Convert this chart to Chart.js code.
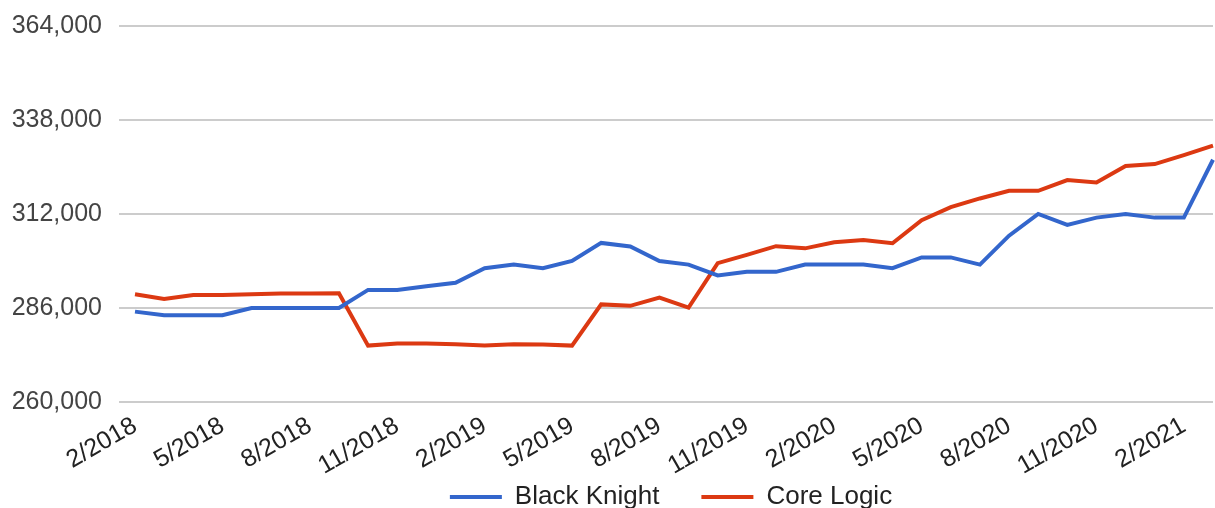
<!DOCTYPE html>
<html>
<head>
<meta charset="utf-8">
<script src="https://cdn.jsdelivr.net/npm/chart.js@4"></script>
<style>
  html, body { margin: 0; padding: 0; background: #fff; }
  #wrap { width: 1215px; height: 508px; position: relative; }
</style>
</head>
<body>
<div id="wrap"><canvas id="linechart"></canvas></div>
<script>
const months = [
  '2/2018', '3/2018', '4/2018', '5/2018', '6/2018', '7/2018', '8/2018', '9/2018', '10/2018', '11/2018', '12/2018',
  '1/2019', '2/2019', '3/2019', '4/2019', '5/2019', '6/2019', '7/2019', '8/2019', '9/2019', '10/2019', '11/2019', '12/2019',
  '1/2020', '2/2020', '3/2020', '4/2020', '5/2020', '6/2020', '7/2020', '8/2020', '9/2020', '10/2020', '11/2020', '12/2020',
  '1/2021', '2/2021', '3/2021'
];
const blackKnight = [
  285000, 284000, 284000, 284000, 286000, 286000, 286000, 286000, 291000, 291000, 292000,
  293000, 297000, 298000, 297000, 299000, 304000, 303000, 299000, 298000, 295000, 296000, 296000,
  298000, 298000, 298000, 297000, 300000, 300000, 298000, 306000, 312000, 309000, 311000, 312000,
  311000, 311000, 327000
];
const coreLogic = [
  289800, 288500, 289600, 289600, 289800, 290000, 290000, 290100, 275600, 276200, 276200,
  276000, 275600, 276000, 275900, 275600, 287000, 286600, 288900, 286100, 298400, 300700, 303100,
  302500, 304200, 304800, 303900, 310300, 313900, 316300, 318400, 318400, 321400, 320700, 325300,
  325800, 328300, 330900
];
const yMin = 260000;
const yMax = 364000;
const yStep = 26000;

const fontFamily = 'Arial, "Liberation Sans", sans-serif';

const layoutFix = {
  id: 'layoutFix',
  afterLayout(chart) {
    // legend sits under the middle of the plot, not the middle of the canvas
    const lg = chart.legend;
    const ca = chart.chartArea;
    const shift = (ca.left + ca.right) / 2 - (lg.left + lg.right) / 2 - 3;
    lg.left += shift;
    lg.right += shift;
    // rotated month labels hang below the axis box, don't clip them
    chart.scales.x._computeLabelArea = () => undefined;
  }
};

const ctx = document.getElementById('linechart');

new Chart(ctx, {
  type: 'line',
  data: {
    labels: months,
    datasets: [{
      label: 'Black Knight',
      data: blackKnight,
      borderColor: '#3366cc',
      backgroundColor: '#3366cc',
      borderWidth: 4,
      pointRadius: 0,
      tension: 0
    }, {
      label: 'Core Logic',
      data: coreLogic,
      borderColor: '#dc3912',
      backgroundColor: '#dc3912',
      borderWidth: 4,
      pointRadius: 0,
      tension: 0
    }]
  },
  options: {
    responsive: true,
    maintainAspectRatio: false,
    animation: false,
    layout: { padding: { top: 26, right: 2, left: 0, bottom: 0 } },
    plugins: {
      tooltip: { enabled: false },
      legend: {
        position: 'bottom',
        maxHeight: 66,
        labels: {
          boxWidth: 52,
          boxHeight: 4,
          padding: 42,
          color: '#222',
          font: { family: fontFamily, size: 26 },
          generateLabels(chart) {
            return Chart.defaults.plugins.legend.labels.generateLabels(chart)
              .map(l => ({ ...l, lineWidth: 0 }));
          }
        }
      }
    },
    scales: {
      x: {
        grid: { display: false },
        border: { display: false },
        afterFit: s => {
          s.height = 40;
          s.paddingLeft = 0;
          s.paddingRight = 0;
        },
        ticks: {
          autoSkip: false,
          minRotation: 30,
          maxRotation: 30,
          padding: 1,
          color: '#222',
          font: { family: fontFamily, size: 25 },
          callback: (v, i) => (i % 3 === 0 ? months[i] : '')
        }
      },
      y: {
        min: yMin,
        max: yMax,
        afterFit: s => {
          s.width = 135;
          s.paddingTop = 0;
          s.paddingBottom = 0;
        },
        grid: { color: '#cccccc', lineWidth: 2, tickLength: 16, drawTicks: true },
        border: { display: false },
        ticks: {
          stepSize: yStep,
          padding: 17,
          color: '#444',
          font: { family: fontFamily, size: 25 },
          callback: v => v.toLocaleString('en-US')
        }
      }
    }
  },
  plugins: [layoutFix]
});
</script>
</body>
</html>
